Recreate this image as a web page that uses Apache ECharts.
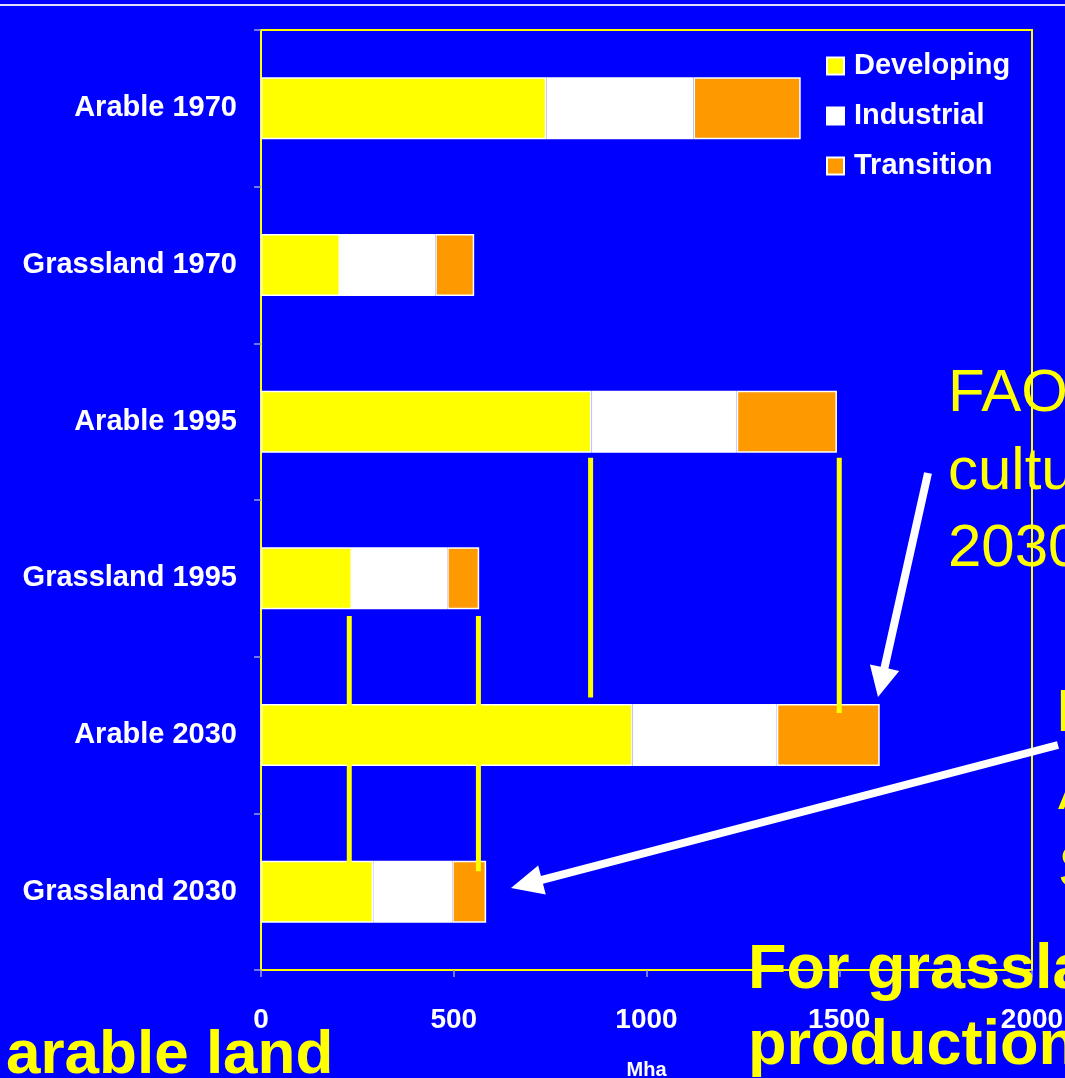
<!DOCTYPE html>
<html><head><meta charset="utf-8">
<script src="https://cdn.jsdelivr.net/npm/echarts@6/dist/echarts.min.js"></script>
<style>html,body{margin:0;padding:0;background:#0000ff;overflow:hidden}#c{width:1065px;height:1078px;}</style>
</head><body><div id="c"></div>
<script>
const categories = ['Arable 1970','Grassland 1970','Arable 1995','Grassland 1995','Arable 2030','Grassland 2030'];
const developing = [740, 205, 857, 236, 964, 291];
const industrial = [382, 247, 377, 247, 374, 205];
const transition = [278, 101, 260, 83, 267, 88];
const seriesNames = ['Developing','Industrial','Transition'];
const xTicks = [0, 500, 1000, 1500, 2000];
// yellow guide lines: x value, from/to in row units (0 = top of first row)
const guideX = [855, 1500, 229, 564];
const guideFrom = [2.73, 2.73, 3.74, 3.74];
const guideTo = [4.26, 4.36, 5.32, 5.37];

const FONT = '"Liberation Sans", Arial, Helvetica, sans-serif';
const colors = ['#ffff00', '#ffffff', '#ff9900'];
const values = [developing, industrial, transition];

const chart = echarts.init(document.getElementById('c'), null, {renderer: 'canvas'});

function arrowPoints(x1, y1, x2, y2, w, hl, hw) {
  const dx = x2 - x1, dy = y2 - y1, L = Math.hypot(dx, dy);
  const ux = dx / L, uy = dy / L, nx = -uy, ny = ux;
  const bx = x2 - ux * hl, by = y2 - uy * hl;
  return [
    [x1 + nx * w / 2, y1 + ny * w / 2],
    [bx + nx * w / 2, by + ny * w / 2],
    [bx + nx * hw, by + ny * hw],
    [x2, y2],
    [bx - nx * hw, by - ny * hw],
    [bx - nx * w / 2, by - ny * w / 2],
    [x1 - nx * w / 2, y1 - ny * w / 2]
  ];
}
function txt(text, x, baseline, size, bold, color) {
  return {type: 'text', z: 100, style: {text: text, x: x, y: baseline - 0.34 * size,
    fill: color, font: (bold ? 'bold ' : '') + size + 'px ' + FONT, textAlign: 'left', textVerticalAlign: 'middle'}};
}

const barSeries = seriesNames.map((n, i) => ({
  name: n, type: 'bar', stack: 'total', barWidth: 62,
  xAxisIndex: 0, yAxisIndex: 0,
  itemStyle: {color: colors[i], borderColor: '#ffffff', borderWidth: 1.5},
  emphasis: {disabled: true},
  data: values[i]
}));
const guideSeries = guideX.map((gx, i) => ({
  type: 'line', xAxisIndex: 0, yAxisIndex: 1, symbol: 'none', silent: true, z: 5,
  lineStyle: {color: '#ffff00', width: 5, cap: 'butt'},
  data: [[gx, guideFrom[i]], [gx, guideTo[i]]]
}));

chart.setOption({
  backgroundColor: '#0000ff',
  animation: false,
  grid: {left: 261, top: 30, right: 33, bottom: 108, outerBoundsMode: 'none', containLabel: false,
    show: true, borderColor: '#ffff00', borderWidth: 2, backgroundColor: 'transparent'},
  legend: {
    data: seriesNames, orient: 'vertical', left: 821, top: 46, itemWidth: 17, itemHeight: 17, itemGap: 20,
    icon: 'rect',
    itemStyle: {borderColor: '#ffffff', borderWidth: 2},
    textStyle: {color: '#ffffff', fontWeight: 'bold', fontSize: 29, fontFamily: FONT, lineHeight: 30, padding: [0, 0, 0, 5]}
  },
  xAxis: [{
    type: 'value', min: xTicks[0], max: xTicks[xTicks.length - 1], interval: xTicks[1] - xTicks[0],
    position: 'bottom',
    axisLine: {show: false, onZero: false}, splitLine: {show: false},
    axisTick: {show: true, length: 7, lineStyle: {color: '#9a9aff', width: 1.5}},
    axisLabel: {color: '#ffffff', fontWeight: 'bold', fontSize: 28, fontFamily: FONT, margin: 36,
      formatter: v => String(v)},
    name: 'Mha', nameLocation: 'middle', nameGap: 90,
    nameTextStyle: {color: '#ffffff', fontWeight: 'bold', fontSize: 20, fontFamily: FONT}
  }],
  yAxis: [{
    type: 'category', data: categories, inverse: true,
    axisLine: {show: false, onZero: false}, splitLine: {show: false},
    axisTick: {show: true, length: 7, alignWithLabel: false, lineStyle: {color: '#9a9aff', width: 1.5}},
    axisLabel: {color: '#ffffff', fontWeight: 'bold', fontSize: 29, fontFamily: FONT, margin: 24}
  }, {
    type: 'value', min: 0, max: categories.length, inverse: true, show: false,
    axisLine: {onZero: false}
  }],
  series: barSeries.concat(guideSeries),
  graphic: [
    {type: 'rect', z: 100, shape: {x: 0, y: 4, width: 1065, height: 2}, style: {fill: '#dcdcff'}},
    {type: 'polygon', z: 100, shape: {points: arrowPoints(928, 473, 878, 697, 8, 30, 15)}, style: {fill: '#ffffff'}},
    {type: 'polygon', z: 100, shape: {points: arrowPoints(1058, 745, 511, 888, 8, 32, 15)}, style: {fill: '#ffffff'}},
    txt('FAO projections', 948, 415, 60, false, '#ffff00'),
    txt('cultures', 948, 493, 60, false, '#ffff00'),
    txt('2030', 948, 570, 60, false, '#ffff00'),
    txt('Bouwman', 1056, 735, 60, false, '#ffff00'),
    txt('Area', 1058, 813, 60, false, '#ffff00'),
    txt('Scenario', 1058, 891, 60, false, '#ffff00'),
    txt('For grassland', 748, 992, 63, true, '#ffff00'),
    txt('production', 748, 1068, 63, true, '#ffff00'),
    txt('arable land', 6, 1077, 62, true, '#ffff00')
  ]
});
</script>
</body></html>
